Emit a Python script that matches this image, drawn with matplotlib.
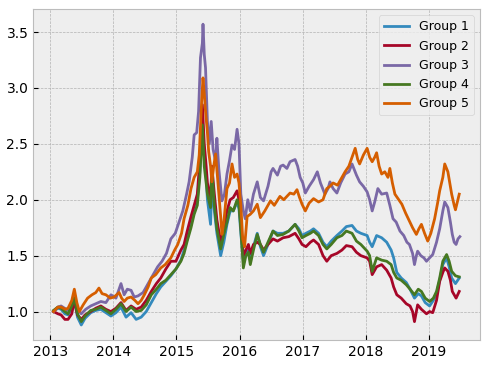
import matplotlib
matplotlib.use("Agg")
import matplotlib.pyplot as plt
import pandas as pd

plt.style.use("bmh")

# ---- data (decimal years) ----
g1_t = [2013.05,2013.12,2013.17,2013.23,2013.28,2013.34,2013.38,2013.43,2013.49,2013.55,2013.64,2013.72,2013.8,2013.88,2013.96,
        2014.04,2014.12,2014.2,2014.28,2014.36,2014.44,2014.52,2014.6,2014.68,2014.75,2014.83,2014.91,2014.99,
        2015.07,2015.12,2015.17,2015.23,2015.28,2015.33,2015.37,2015.41,2015.44,2015.47,2015.49,2015.54,2015.56,2015.6,2015.64,2015.7,2015.75,2015.8,2015.85,2015.9,2015.96,2015.99,
        2016.02,2016.06,2016.1,2016.14,2016.17,2016.22,2016.28,2016.33,2016.38,2016.45,2016.53,2016.6,2016.69,2016.78,2016.88,2016.94,2016.99,
        2017.05,2017.12,2017.17,2017.25,2017.32,2017.38,2017.45,2017.54,2017.62,2017.69,2017.78,2017.85,2017.92,
        2018.02,2018.06,2018.1,2018.17,2018.25,2018.33,2018.4,2018.44,2018.49,2018.56,2018.64,2018.7,2018.77,2018.83,2018.88,2018.94,
        2019.01,2019.07,2019.12,2019.17,2019.22,2019.28,2019.32,2019.36,2019.42,2019.48]
g1_v = [1.0,1.03,1.02,0.98,0.97,1.03,1.1,0.95,0.88,0.94,0.99,1.01,1.02,0.99,0.96,
        0.99,1.04,0.95,0.99,0.93,0.95,1.0,1.08,1.16,1.22,1.27,1.32,1.38,
        1.46,1.55,1.65,1.78,1.9,2.0,2.25,2.72,2.4,2.2,2.0,1.78,2.15,1.9,1.7,1.5,1.62,1.78,1.9,1.9,1.98,1.92,
        1.7,1.45,1.52,1.55,1.48,1.58,1.7,1.58,1.5,1.6,1.72,1.7,1.7,1.72,1.78,1.74,1.68,
        1.7,1.72,1.74,1.7,1.62,1.58,1.63,1.68,1.72,1.76,1.77,1.72,1.7,
        1.68,1.62,1.58,1.68,1.66,1.62,1.55,1.48,1.35,1.3,1.26,1.2,1.12,1.16,1.14,1.08,
        1.05,1.1,1.16,1.28,1.42,1.48,1.4,1.3,1.25,1.3]

g2_t = [2013.05,2013.12,2013.17,2013.23,2013.28,2013.34,2013.38,2013.43,2013.49,2013.55,2013.64,2013.72,2013.8,2013.88,2013.96,
        2014.04,2014.12,2014.2,2014.28,2014.36,2014.44,2014.52,2014.6,2014.68,2014.75,2014.83,2014.91,2014.99,
        2015.07,2015.12,2015.17,2015.23,2015.28,2015.33,2015.37,2015.41,2015.44,2015.47,2015.49,2015.54,2015.56,2015.6,2015.64,2015.7,2015.75,2015.8,2015.85,2015.9,2015.96,2015.99,
        2016.02,2016.06,2016.1,2016.14,2016.17,2016.22,2016.28,2016.33,2016.38,2016.45,2016.53,2016.6,2016.69,2016.78,2016.88,2016.94,2016.99,
        2017.05,2017.12,2017.17,2017.25,2017.32,2017.38,2017.45,2017.54,2017.62,2017.69,2017.78,2017.85,2017.92,
        2018.02,2018.06,2018.1,2018.17,2018.25,2018.33,2018.4,2018.44,2018.49,2018.56,2018.64,2018.7,2018.74,2018.77,2018.82,2018.88,2018.96,
        2019.01,2019.06,2019.12,2019.17,2019.22,2019.25,2019.3,2019.34,2019.37,2019.43,2019.48]
g2_v = [1.0,0.98,0.97,0.93,0.93,0.98,1.1,0.97,0.93,0.97,1.0,1.03,1.05,1.02,1.0,
        1.03,1.08,1.01,1.05,1.02,1.04,1.1,1.18,1.25,1.3,1.38,1.45,1.45,
        1.55,1.6,1.72,1.85,1.95,2.05,2.35,2.85,2.5,2.3,2.15,2.0,2.3,2.05,1.82,1.62,1.75,1.9,2.0,2.02,2.08,2.0,
        1.78,1.5,1.55,1.6,1.52,1.6,1.62,1.6,1.55,1.6,1.65,1.63,1.66,1.67,1.7,1.65,1.6,
        1.58,1.62,1.64,1.6,1.5,1.45,1.5,1.52,1.55,1.59,1.58,1.53,1.5,
        1.48,1.45,1.33,1.4,1.42,1.37,1.3,1.22,1.15,1.12,1.07,1.05,1.0,0.91,1.06,1.02,0.98,
        1.0,0.99,1.1,1.27,1.35,1.39,1.36,1.28,1.18,1.12,1.18]

g3_t = [2013.05,2013.12,2013.17,2013.28,2013.35,2013.38,2013.43,2013.49,2013.56,2013.64,2013.72,2013.8,2013.88,2013.96,
        2014.04,2014.12,2014.17,2014.22,2014.28,2014.33,2014.39,2014.47,2014.55,2014.62,2014.7,2014.77,2014.84,2014.91,2014.98,
        2015.04,2015.1,2015.16,2015.2,2015.25,2015.28,2015.32,2015.35,2015.38,2015.41,2015.42,2015.44,2015.46,2015.49,2015.52,2015.55,2015.58,2015.62,2015.64,2015.67,2015.7,2015.72,2015.76,2015.8,2015.84,2015.88,2015.92,2015.96,2015.99,
        2016.02,2016.06,2016.09,2016.13,2016.17,2016.22,2016.28,2016.33,2016.38,2016.45,2016.5,2016.53,2016.6,2016.65,2016.69,2016.75,2016.8,2016.88,2016.92,2016.96,
        2017.0,2017.04,2017.1,2017.17,2017.23,2017.28,2017.35,2017.4,2017.43,2017.48,2017.54,2017.6,2017.67,2017.73,2017.78,2017.85,2017.9,2017.96,
        2018.02,2018.06,2018.1,2018.14,2018.19,2018.25,2018.33,2018.38,2018.43,2018.48,2018.54,2018.6,2018.65,2018.69,2018.74,2018.77,2018.8,2018.82,2018.87,2018.92,2018.96,
        2019.01,2019.06,2019.12,2019.17,2019.22,2019.25,2019.3,2019.34,2019.37,2019.4,2019.43,2019.46,2019.49]
g3_v = [1.0,1.04,1.05,1.01,1.08,1.15,1.02,0.98,1.02,1.05,1.07,1.09,1.08,1.15,
        1.12,1.25,1.15,1.2,1.19,1.13,1.14,1.17,1.25,1.32,1.4,1.45,1.52,1.65,1.7,
        1.8,1.9,2.05,2.16,2.38,2.58,2.6,2.79,3.27,3.4,3.57,3.3,3.18,2.7,2.5,2.7,2.45,2.34,2.55,2.28,2.1,1.99,2.05,2.23,2.35,2.49,2.45,2.63,2.5,
        2.05,1.9,1.83,2.0,1.9,2.05,2.16,2.02,1.99,2.12,2.25,2.28,2.22,2.3,2.31,2.28,2.34,2.36,2.3,2.2,
        2.15,2.06,2.12,2.18,2.25,2.15,2.05,2.1,2.16,2.1,2.06,2.15,2.23,2.25,2.32,2.22,2.16,2.12,
        2.07,2.0,1.9,1.98,2.1,2.05,2.06,1.95,1.83,1.8,1.72,1.68,1.62,1.6,1.52,1.42,1.5,1.54,1.5,1.48,1.45,
        1.48,1.51,1.62,1.74,1.9,1.98,1.93,1.8,1.69,1.62,1.6,1.65,1.67]

g4_t = [2013.05,2013.12,2013.17,2013.23,2013.28,2013.34,2013.38,2013.43,2013.49,2013.55,2013.64,2013.72,2013.8,2013.88,2013.96,
        2014.04,2014.12,2014.2,2014.28,2014.36,2014.44,2014.52,2014.6,2014.68,2014.75,2014.83,2014.91,2014.99,
        2015.07,2015.12,2015.17,2015.23,2015.28,2015.33,2015.37,2015.41,2015.44,2015.47,2015.49,2015.54,2015.56,2015.6,2015.64,2015.7,2015.75,2015.8,2015.85,2015.9,2015.96,2015.99,
        2016.02,2016.06,2016.1,2016.14,2016.17,2016.22,2016.28,2016.33,2016.38,2016.45,2016.53,2016.6,2016.69,2016.78,2016.88,2016.94,2016.99,
        2017.05,2017.12,2017.17,2017.25,2017.32,2017.38,2017.45,2017.54,2017.62,2017.69,2017.78,2017.85,2017.92,
        2018.02,2018.06,2018.1,2018.17,2018.25,2018.33,2018.4,2018.44,2018.49,2018.56,2018.64,2018.7,2018.77,2018.83,2018.88,2018.94,
        2019.01,2019.07,2019.12,2019.17,2019.22,2019.28,2019.32,2019.36,2019.42,2019.48]
g4_v = [1.01,1.04,1.03,1.0,0.98,1.05,1.12,0.98,0.91,0.96,1.01,1.02,1.04,1.01,0.98,
        1.02,1.07,1.0,1.04,1.0,1.01,1.06,1.15,1.2,1.25,1.28,1.33,1.38,
        1.45,1.52,1.63,1.75,1.87,1.95,2.2,2.67,2.3,2.15,2.05,1.93,2.28,1.95,1.74,1.56,1.69,1.8,1.93,1.9,2.0,1.95,
        1.74,1.39,1.5,1.53,1.42,1.55,1.69,1.6,1.53,1.62,1.72,1.68,1.69,1.72,1.78,1.72,1.66,
        1.68,1.7,1.72,1.68,1.6,1.56,1.6,1.66,1.68,1.72,1.7,1.63,1.6,
        1.54,1.5,1.36,1.48,1.46,1.45,1.42,1.35,1.3,1.28,1.24,1.2,1.15,1.2,1.18,1.12,
        1.09,1.12,1.18,1.3,1.45,1.51,1.45,1.36,1.32,1.31]

g5_t = [2013.05,2013.12,2013.17,2013.24,2013.28,2013.34,2013.38,2013.42,2013.46,2013.52,2013.59,2013.66,2013.72,2013.77,2013.82,2013.88,2013.95,
        2014.01,2014.09,2014.13,2014.17,2014.22,2014.28,2014.34,2014.39,2014.44,2014.49,2014.55,2014.6,2014.67,2014.75,2014.82,2014.91,2014.97,
        2015.02,2015.08,2015.12,2015.18,2015.23,2015.28,2015.33,2015.36,2015.38,2015.4,2015.42,2015.44,2015.46,2015.49,2015.51,2015.54,2015.56,2015.59,2015.62,2015.65,2015.67,2015.7,2015.72,2015.75,2015.8,2015.84,2015.88,2015.92,2015.96,2015.99,
        2016.02,2016.05,2016.08,2016.12,2016.17,2016.22,2016.28,2016.33,2016.4,2016.49,2016.55,2016.64,2016.7,2016.8,2016.86,2016.91,2016.95,2016.99,
        2017.04,2017.1,2017.17,2017.25,2017.32,2017.38,2017.43,2017.48,2017.55,2017.62,2017.67,2017.73,2017.78,2017.83,2017.87,2017.9,2017.96,
        2018.02,2018.06,2018.1,2018.14,2018.17,2018.21,2018.25,2018.3,2018.35,2018.38,2018.42,2018.46,2018.52,2018.57,2018.63,2018.69,2018.74,2018.8,2018.84,2018.88,2018.93,2018.98,
        2019.03,2019.09,2019.14,2019.17,2019.22,2019.25,2019.3,2019.33,2019.36,2019.4,2019.42,2019.45,2019.48]
g5_v = [1.0,1.04,1.04,1.02,1.03,1.1,1.2,1.08,1.0,1.06,1.12,1.15,1.17,1.21,1.16,1.15,1.12,
        1.13,1.17,1.12,1.09,1.12,1.13,1.1,1.07,1.1,1.15,1.22,1.3,1.33,1.39,1.42,1.48,1.55,
        1.6,1.7,1.83,1.95,2.1,2.2,2.25,2.4,2.64,2.9,3.09,2.95,2.79,2.6,2.43,2.3,2.16,2.3,2.41,2.2,2.05,1.85,1.69,1.8,2.1,2.15,2.32,2.2,2.23,2.15,
        1.95,1.65,1.58,1.85,1.87,1.9,1.96,1.84,1.9,1.99,1.95,2.03,2.0,2.06,2.05,2.09,2.02,1.96,
        1.9,1.97,2.01,1.98,2.0,2.1,2.12,2.15,2.13,2.2,2.25,2.3,2.38,2.46,2.36,2.32,2.4,
        2.46,2.38,2.34,2.38,2.42,2.3,2.23,2.25,2.2,2.28,2.15,2.05,2.0,1.96,1.88,1.81,1.75,1.69,1.74,1.78,1.7,1.63,
        1.7,1.83,1.98,2.08,2.2,2.32,2.25,2.15,2.05,1.95,1.91,1.98,2.05]

labels = ["Group 1", "Group 2", "Group 3", "Group 4", "Group 5"]
series_t = [g1_t, g2_t, g3_t, g4_t, g5_t]
series_v = [g1_v, g2_v, g3_v, g4_v, g5_v]


def to_dates(years):
    out = []
    for y in years:
        yr = int(y)
        start = pd.Timestamp(year=yr, month=1, day=1)
        out.append(start + pd.Timedelta(days=(y - yr) * 365.25))
    return out


fig = plt.figure(figsize=(4.88, 3.66), dpi=100)
ax = fig.add_axes([0.068, 0.071, 0.916, 0.904])
for t, v, lab in zip(series_t, series_v, labels):
    ax.plot(to_dates(t), v, label=lab, linewidth=2.0)

ax.legend(loc="upper right", fontsize=9)
fig.savefig("out.png", dpi=100)
